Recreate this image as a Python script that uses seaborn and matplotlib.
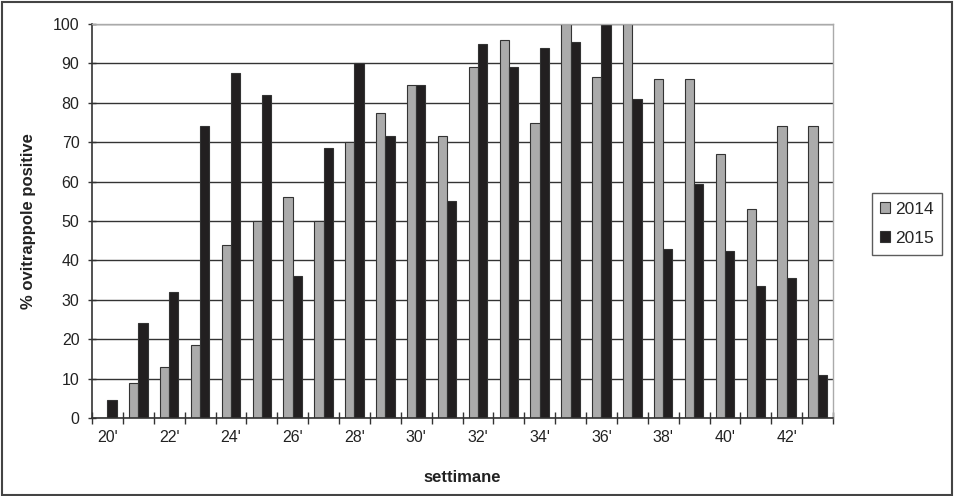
import matplotlib
matplotlib.use("Agg")
import matplotlib.pyplot as plt
import seaborn as sns
import pandas as pd
import numpy as np
from matplotlib.patches import Rectangle

weeks = [str(w) + "'" for w in range(20, 44)]
v2014 = [0, 9, 13, 18.5, 44, 50, 56, 50, 70, 77.5, 84.5, 71.5, 89, 96, 75, 100,
         86.5, 100, 86, 86, 67, 53, 74, 74]
v2015 = [4.5, 24, 32, 74, 87.5, 82, 36, 68.5, 90, 71.5, 84.5, 55, 95, 89, 94, 95.5,
         100, 81, 43, 59.5, 42.5, 33.5, 35.5, 11]
years = ["2014", "2015"]
colors = ["#ababab", "#221f20"]

df = pd.DataFrame({
    "settimana": weeks * 2,
    "valore": v2014 + v2015,
    "anno": [years[0]] * len(weeks) + [years[1]] * len(weeks),
})

sns.set_theme(style="white")
plt.rcParams["font.family"] = ["Liberation Sans", "DejaVu Sans"]

fig = plt.figure(figsize=(9.55, 4.96), dpi=100)
ax = fig.add_axes([92 / 955, 1 - 418 / 496, (833 - 92) / 955, (418 - 24) / 496])

sns.barplot(data=df, x="settimana", y="valore", hue="anno", order=weeks,
            hue_order=years, palette=colors, width=0.6, edgecolor="#333333",
            linewidth=0.8, ax=ax, legend=True)

ax.set_ylim(0, 100)
ax.set_xlim(-0.5, len(weeks) - 0.5)
ax.set_yticks(np.arange(0, 101, 10))
ax.yaxis.grid(True, color="#333333", linewidth=1.0)
ax.set_axisbelow(True)

ax.set_xticks(range(0, len(weeks), 2))
ax.set_xticklabels([weeks[i] for i in range(0, len(weeks), 2)])
ax.set_xticks(np.arange(-0.5, len(weeks), 1), minor=True)
ax.tick_params(axis="x", which="both", bottom=True)
ax.tick_params(axis="y", which="both", left=True)
ax.tick_params(axis="x", which="major", length=0, labelsize=11.5, pad=9, labelcolor="#222222")
ax.tick_params(axis="x", which="minor", length=8, direction="inout", width=1, color="#333333")
ax.tick_params(axis="y", which="major", length=6, direction="inout", width=1,
               labelsize=11.5, pad=6, labelcolor="#222222", color="#333333")

for s in ["left", "bottom"]:
    ax.spines[s].set_color("#333333")
    ax.spines[s].set_linewidth(1.2)
for s in ["top", "right"]:
    ax.spines[s].set_color("#aaaaaa")
    ax.spines[s].set_linewidth(1.0)

ax.set_xlabel("settimane", fontsize=12, fontweight="bold", labelpad=18, color="#222222")
ax.set_ylabel("% ovitrappole positive", fontsize=12, fontweight="bold", labelpad=12, color="#222222")

leg = ax.legend(loc="center", bbox_to_anchor=(907 / 955, 1 - 224 / 496),
                bbox_transform=fig.transFigure, frameon=True, fontsize=12.5,
                handlelength=0.55, handleheight=0.6, handletextpad=0.3,
                borderpad=0.5, labelspacing=0.8, fancybox=False)
leg.get_frame().set_edgecolor("#333333")
leg.get_frame().set_linewidth(1.0)
leg.set_title(None)

fig.patches.append(Rectangle((0.002, 0.003), 0.995, 0.993, transform=fig.transFigure,
                             fill=False, edgecolor="#444444", linewidth=1.5))

fig.savefig("out.png", dpi=100)
